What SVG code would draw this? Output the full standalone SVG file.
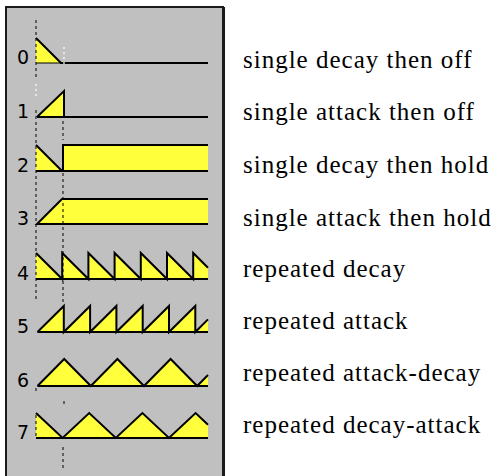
<svg xmlns="http://www.w3.org/2000/svg" width="501" height="476" viewBox="0 0 501 476">
<style>
.wave{fill:#ffff3c;stroke:#000;stroke-width:2;stroke-linejoin:miter}
.line{fill:none;stroke:#000;stroke-width:2}
.dash{stroke:#000;stroke-width:1;stroke-dasharray:3 3;fill:none}
.wdash{stroke:#fff;stroke-width:1.2;stroke-dasharray:2 3;fill:none}
.num{font-family:"DejaVu Sans",Verdana,sans-serif;font-size:19px;fill:#000;text-anchor:middle}
.lbl{font-family:"Liberation Serif","Times New Roman",serif;font-size:25px;letter-spacing:1px;fill:#000}
</style>
<rect x="0" y="0" width="501" height="476" fill="#fff"/>
<g id="panel">
<rect x="6" y="7" width="217" height="470" fill="#c0c0c0"/>
<path d="M6,477 V7 H223 V477" fill="none" stroke="#1a1a1a" stroke-width="2"/>
<line x1="223.5" y1="7" x2="223.5" y2="477" stroke="#1a1a1a" stroke-width="3"/>
</g>
<g id="row0">
<polygon points="36,38 61,63 36,63" fill="#ffff3c"/>
<polyline class="line" points="36,38 61,63 208,63"/>
<line x1="36" y1="63" x2="61" y2="63" stroke="#000" stroke-width="1"/>
<text class="num" x="23" y="64">0</text>
</g>
<g id="row1">
<polygon points="37,117 64,91 64,117" fill="#ffff3c"/>
<polyline class="line" points="37,117 64,91 64,117"/>
<line class="line" x1="37" y1="117" x2="208" y2="117"/>
<text class="num" x="23" y="118">1</text>
</g>
<g id="row2">
<polygon points="36,145 62,171 36,171" fill="#ffff3c"/>
<rect x="63" y="145" width="145" height="26" fill="#ffff3c"/>
<polyline class="line" points="36,145 62,171 63,171 63,145 208,145"/>
<line class="line" x1="36" y1="171" x2="208" y2="171"/>
<text class="num" x="23" y="172">2</text>
</g>
<g id="row3">
<polygon points="37,224 62,199 208,199 208,224" fill="#ffff3c"/>
<polyline class="line" points="208,199 62,199 37,224 208,224"/>
<text class="num" x="23" y="225">3</text>
</g>
<g id="row4">
<polygon points="36,253 62.2,279 62.2,253 88.4,279 88.4,253 114.6,279 114.6,253 140.8,279 140.8,253 167,279 167,253 193.2,279 193.2,253 208,267.7 208,279 36,279" fill="#ffff3c"/>
<polyline class="line" points="36,253 62.2,279 62.2,253 88.4,279 88.4,253 114.6,279 114.6,253 140.8,279 140.8,253 167,279 167,253 193.2,279 193.2,253 208,267.7"/>
<line class="line" x1="36" y1="279" x2="208" y2="279"/>
<text class="num" x="23" y="280">4</text>
</g>
<g id="row5">
<polygon points="37.5,332 63.8,306 63.8,332 90.1,306 90.1,332 116.4,306 116.4,332 142.7,306 142.7,332 169,306 169,332 195.3,306 195.3,332 208,319.4 208,332" fill="#ffff3c"/>
<polyline class="line" points="37.5,332 63.8,306 63.8,332 90.1,306 90.1,332 116.4,306 116.4,332 142.7,306 142.7,332 169,306 169,332 195.3,306 195.3,332 208,319.4"/>
<line class="line" x1="37.5" y1="332" x2="208" y2="332"/>
<text class="num" x="23" y="333">5</text>
</g>
<g id="row6">
<polygon points="37.5,386 64.2,359 90.8,386 117.4,359 144,386 170.6,359 197.2,386 208,375 208,386" fill="#ffff3c"/>
<polyline class="line" points="37.5,386 64.2,359 90.8,386 117.4,359 144,386 170.6,359 197.2,386 208,375"/>
<line class="line" x1="37.5" y1="386" x2="208" y2="386"/>
<text class="num" x="23" y="387">6</text>
</g>
<g id="row7">
<polygon points="36,413 62.6,438 89.2,413 115.8,438 142.4,413 169,438 195.6,413 208,424.7 208,438 36,438" fill="#ffff3c"/>
<polyline class="line" points="36,413 62.6,438 89.2,413 115.8,438 142.4,413 169,438 195.6,413 208,424.7"/>
<line class="line" x1="36" y1="438" x2="208" y2="438"/>
<text class="num" x="23" y="439">7</text>
</g>
<g id="connectors">
<line class="dash" x1="36" y1="20" x2="36" y2="78"/>
<line class="wdash" x1="36" y1="84" x2="36" y2="98"/>
<line class="dash" x1="36" y1="110" x2="36" y2="302"/>
<line class="dash" x1="36" y1="436" x2="36" y2="415"/>
<line class="dash" x1="36" y1="388" x2="36" y2="391"/>
<line class="wdash" x1="64" y1="47" x2="64" y2="66"/>
<line class="dash" x1="63" y1="121" x2="63" y2="140"/>
<line class="dash" x1="63" y1="173" x2="63" y2="303"/>
<line class="dash" x1="64" y1="401" x2="64" y2="404"/>
<line class="dash" x1="63" y1="447" x2="63" y2="468"/>
</g>
<g id="labels">
<text class="lbl" x="243" y="68">single decay then off</text>
<text class="lbl" x="243" y="120">single attack then off</text>
<text class="lbl" x="243" y="173">single decay then hold</text>
<text class="lbl" x="243" y="226">single attack then hold</text>
<text class="lbl" x="243" y="277">repeated decay</text>
<text class="lbl" x="243" y="329">repeated attack</text>
<text class="lbl" x="243" y="381">repeated attack-decay</text>
<text class="lbl" x="243" y="433">repeated decay-attack</text>
</g>
</svg>
